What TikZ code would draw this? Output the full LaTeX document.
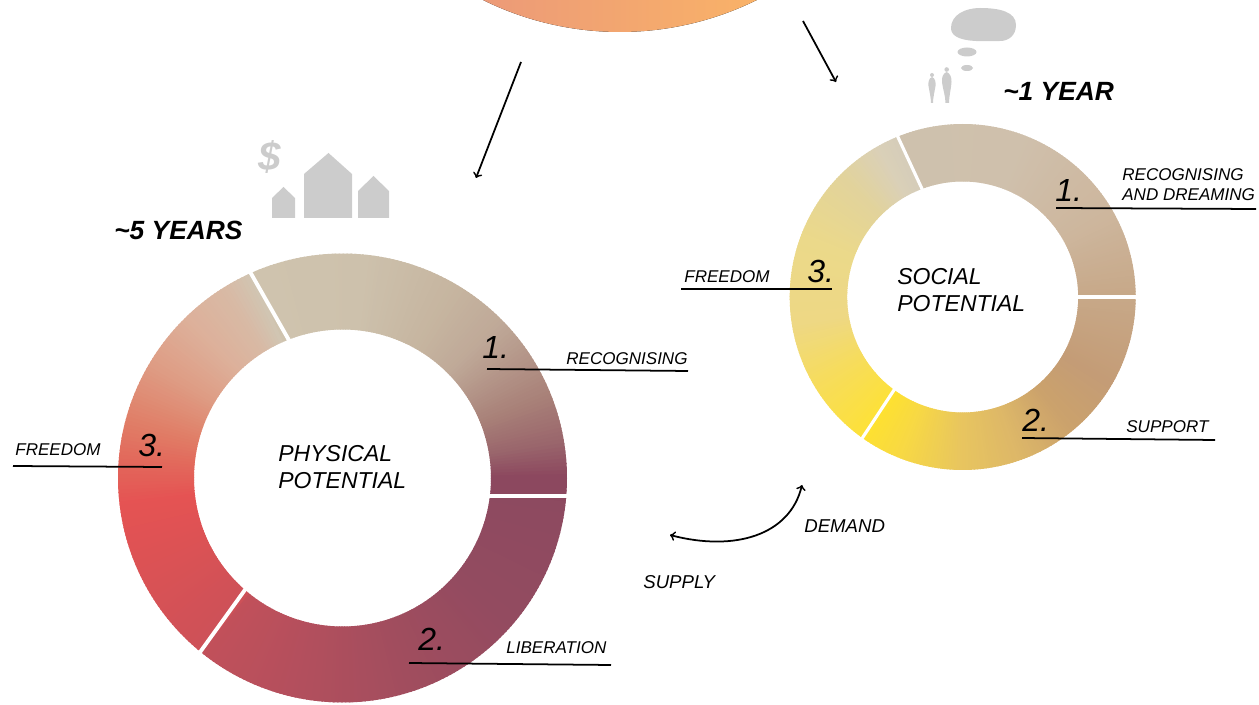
\documentclass[tikz,border=0pt]{standalone}
\usepackage{fontspec}
\setmainfont{Liberation Sans}
\definecolor{icongray}{HTML}{CCCCCC}
\definecolor{topleft}{HTML}{EC9A78}
\definecolor{topright}{HTML}{F9B268}
\tikzstyle{tag} = [inner sep=0pt, anchor=base west, font=\fontsize{9.7}{11.4}\selectfont\itshape, align=left]
\tikzstyle{flow} = [tag, font=\fontsize{10.6}{12}\selectfont\itshape]
\tikzstyle{numeral} = [tag, font=\fontsize{18.2}{20}\selectfont\itshape]
\tikzstyle{title} = [tag, font=\fontsize{13.1}{15.4}\selectfont\itshape]
\tikzstyle{heading} = [tag, font=\fontsize{15}{17}\selectfont\bfseries\itshape]
\tikzstyle{rule} = [draw, line width=1pt, black]
\tikzstyle{arrow} = [draw, line width=1pt, ->, black]
\tikzstyle{gap} = [draw, line width=2.2pt, white]
\tikzstyle{icon} = [fill=icongray, draw=none]

% one stretch of a ring, colour running from #3 to #4
\newcommand{\ringband}[4]{%
	\definecolor{cfrom}{HTML}{#3}\definecolor{cto}{HTML}{#4}%
	\pgfmathtruncatemacro\n{max(2,abs(#2-#1))}%
	\foreach \t in {1,...,\n}{%
		\pgfmathsetmacro\p{100-(\t-1)*100/\n}
		\pgfmathsetmacro\sa{#1+(#2-#1)*(\t-1)/\n}
		\pgfmathsetmacro\sb{#1+(#2-#1)*(\t+.4)/\n}
		\fill[cfrom!\p!cto] (\sa:\rOut) arc[start angle=\sa, end angle=\sb, radius=\rOut]
			-- (\sb:\rIn) arc[start angle=\sb, end angle=\sa, radius=\rIn] -- cycle;
	}%
}

\begin{document}
\begin{tikzpicture}[x=.02cm, y=.02cm, >=to]

	\useasboundingbox (0,0) rectangle (1259,704);

	% orange disc cut by the top edge
	\fill[left color=topleft, right color=topright] (483,704) arc[start angle=243.7, end angle=296.3, radius=309] -- cycle;

	% physical ring
	\begin{scope}[shift={(342.5,226)}]
		\def\rOut{224.5}
		\def\rIn{148.5}
		\foreach \a/\b/\from/\to in {
			114/85/CFC3AE/CDC1AC, 85/60/CDC1AC/C6B5A0, 60/45/C6B5A0/BFA998, 45/22/BFA998/A88078,
			22/10/A88078/9A666C, 10/1/9A666C/8C485F, 1/-6/8C485F/8C485F,
			-6/-40/8D4A60/934B60, -40/-70/934B60/A04D5E, -70/-100/A04D5E/B24F5D, -100/-129/B24F5D/C2505A,
			-129/-160/CD5158/DE5254, -160/-173/DE5254/E55353, -173/-185/E55353/E26A5C, -185/-195/E26A5C/E07F68,
			-195/-210/E07F68/DE9C84, -210/-225/DE9C84/DDB09A, -225/-238/DDB09A/D8BAA5, -238/-246/D8BAA5/D0C6B4}
			{\ringband{\a}{\b}{\from}{\to}}
	\end{scope}

	% social ring
	\begin{scope}[shift={(962.7,407)}]
		\def\rOut{173}
		\def\rIn{115.5}
		\foreach \a/\b/\from/\to in {
			112/70/CEC1AD/CFC0AC, 70/30/CFC0AC/CDB69D, 30/0/CDB69D/C7A888,
			0/-30/C7A888/C49C76, -30/-50/C49C76/CBA26C, -50/-70/CBA26C/DDB768, -70/-90/DDB768/E8C55F,
			-90/-110/E8C55F/F7D845, -110/-126/F7D845/FFE22F,
			-126/-150/FDE13A/F6DC5E, -150/-170/F6DC5E/EED884, -170/-200/EED884/EBD98A,
			-200/-225/EBD98A/E2D39C, -225/-240/E2D39C/DAD0B8, -240/-248/DAD0B8/D5CCB9}
			{\ringband{\a}{\b}{\from}{\to}}
	\end{scope}

	% white cuts
	\coordinate (g_1a) at (487,208);
	\coordinate (g_1b) at (570,208);
	\coordinate (g_2a) at (247,117);
	\coordinate (g_2b) at (198,49);
	\coordinate (g_3a) at (290,362);
	\coordinate (g_3b) at (249,434);
	\draw[gap] (g_1a) -- (g_1b);
	\draw[gap] (g_2a) -- (g_2b);
	\draw[gap] (g_3a) -- (g_3b);

	\coordinate (h_1a) at (1075,407);
	\coordinate (h_1b) at (1139,407);
	\coordinate (h_2a) at (896,317);
	\coordinate (h_2b) at (861,264);
	\coordinate (h_3a) at (923,513);
	\coordinate (h_3b) at (897,569);
	\draw[gap, line width=1.8pt] (h_1a) -- (h_1b);
	\draw[gap, line width=1.8pt] (h_2a) -- (h_2b);
	\draw[gap, line width=1.8pt] (h_3a) -- (h_3b);

	% ring names and durations
	\node[title] (physical) at (278,215) {PHYSICAL\\POTENTIAL};
	\node[title] (social) at (897,392) {SOCIAL\\POTENTIAL};
	\node[heading] (five) at (114,464) {\textasciitilde5 YEARS};
	\node[heading] (one) at (1003,603) {\textasciitilde1 YEAR};

	% physical labels
	\node[numeral] (p_1) at (482,345) {1.};
	\node[tag] (p_rec) at (566,339) {RECOGNISING};
	\coordinate (p_1a) at (487,335);
	\coordinate (p_1b) at (688,333);
	\draw[rule] (p_1a) -- (p_1b);

	\node[numeral] (p_2) at (418,53) {2.};
	\node[tag] (p_lib) at (506,51) {LIBERATION};
	\coordinate (p_2a) at (409,41);
	\coordinate (p_2b) at (611,39);
	\draw[rule] (p_2a) -- (p_2b);

	\node[numeral] (p_3) at (138,247) {3.};
	\node[tag] (p_free) at (15,248) {FREEDOM};
	\coordinate (p_3a) at (13,238);
	\coordinate (p_3b) at (162,237);
	\draw[rule] (p_3a) -- (p_3b);

	% social labels
	\node[numeral] (s_1) at (1055,502) {1.};
	\node[tag] (s_rec) at (1122,503) {RECOGNISING\\AND DREAMING};
	\coordinate (s_1a) at (1056,496);
	\coordinate (s_1b) at (1256,495);
	\draw[rule] (s_1a) -- (s_1b);

	\node[numeral] (s_2) at (1022,272) {2.};
	\node[tag] (s_sup) at (1126,271) {SUPPORT};
	\coordinate (s_2a) at (1022,266);
	\coordinate (s_2b) at (1215,264);
	\draw[rule] (s_2a) -- (s_2b);

	\node[numeral] (s_3) at (807,421) {3.};
	\node[tag] (s_free) at (684,421) {FREEDOM};
	\coordinate (s_3a) at (681,415);
	\coordinate (s_3b) at (832,415);
	\draw[rule] (s_3a) -- (s_3b);

	% arrows
	\coordinate (a_1) at (521,642);
	\coordinate (a_2) at (476,526);
	\coordinate (b_1) at (803,683);
	\coordinate (b_2) at (836,622);
	\draw[arrow] (a_1) -- (a_2);
	\draw[arrow] (b_1) -- (b_2);

	\node[flow] (demand) at (804,171) {DEMAND};
	\node[flow] (supply) at (643,115) {SUPPLY};
	\coordinate (c_1) at (670,169);
	\coordinate (c_2) at (802,219);
	\draw[arrow, <->] (c_1) .. controls (735,152) and (790,169) .. (c_2);

	% houses and dollar
	\node[tag, text=icongray, font=\fontsize{23}{25}\selectfont\bfseries\itshape] (dollar) at (258,533) {\$};
	\fill[icon] (272,486) -- (272,506) -- (283.5,517) -- (295,506) -- (295,486) -- cycle;
	\fill[icon] (304,486) -- (304,530) -- (328.5,551) -- (352,530) -- (352,486) -- cycle;
	\fill[icon] (358,486) -- (358,513) -- (373.5,528) -- (389,513) -- (389,486) -- cycle;

	% thought bubble and two figures
	\fill[icon] (951,676) .. controls (951,689) and (965,696) .. (980,696)
		.. controls (1000,696) and (1016,692) .. (1016,679)
		.. controls (1016,668) and (1008,663) .. (1000,663)
		.. controls (985,663) and (951,660) .. (951,676) -- cycle;
	\fill[icon] (967,652) ellipse [x radius=9.5, y radius=4.5];
	\fill[icon] (967,636) ellipse [x radius=6, y radius=3];
	\fill[icon] (932,629) circle (2);
	\fill[icon] (932,627) .. controls (929,626) and (928,622) .. (928.5,618)
		.. controls (929.5,612) and (931,606) .. (931,601) -- (933,601)
		.. controls (933,606) and (934.5,612) .. (935.5,618)
		.. controls (936,622) and (935,626) .. (932,627) -- cycle;
	\fill[icon] (946.7,634.5) circle (2.3);
	\fill[icon] (946.7,632) .. controls (943,631) and (941.5,626) .. (942,622)
		.. controls (943,614) and (945.5,608) .. (945.5,601) -- (949,601)
		.. controls (949,608) and (951,614) .. (951.5,622)
		.. controls (952,626) and (950,631) .. (946.7,632) -- cycle;

\end{tikzpicture}
\end{document}
